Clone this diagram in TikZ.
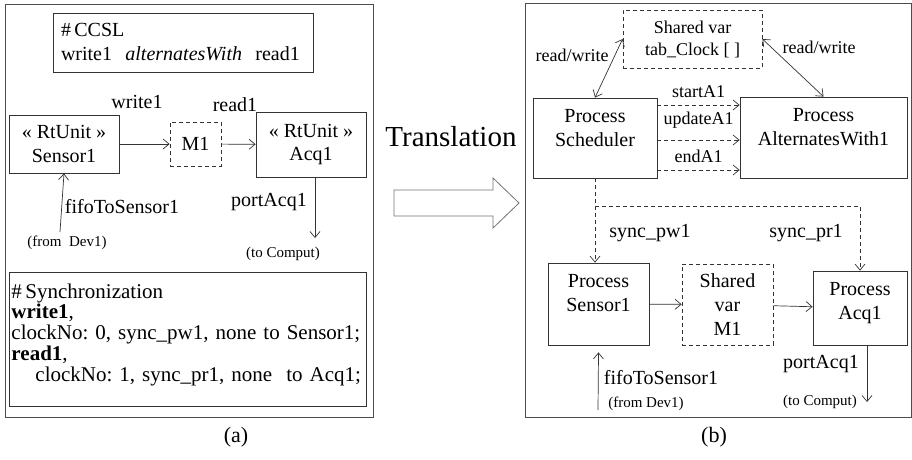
\documentclass[tikz,border=0pt]{standalone}
\usepackage{fontspec}
\setmainfont{Liberation Serif}
\usetikzlibrary{arrows.meta}
\frenchspacing

\newcommand{\boxtxt}{\fontsize{20}{24}\selectfont}
\newcommand{\lbltxt}{\fontsize{18}{22}\selectfont}
\newcommand{\notetxt}{\fontsize{15}{17}\selectfont}
\newcommand{\synctxt}{\fontsize{21}{20.75}\selectfont}
\newcommand{\titletxt}{\fontsize{29}{32}\selectfont}
\newcommand{\captxt}{\fontsize{22}{26}\selectfont}

\tikzset{
	panel/.style={draw=black!70, line width=0.8pt},
	box/.style={draw=black!80, line width=0.8pt, inner sep=0pt, align=center, font=\boxtxt},
	dbox/.style={box, dash pattern=on 4pt off 3pt},
	conn/.style={draw=black!80, line width=0.7pt, -{Straight Barb[length=6pt,width=10pt]}},
	dconn/.style={conn, dash pattern=on 4pt off 3pt},
	rw/.style={draw=black!80, line width=0.7pt, {Straight Barb[length=6pt,width=10pt]}-{Straight Barb[length=6pt,width=10pt]}},
	lbl/.style={inner sep=2pt, text depth=0pt, font=\lbltxt},
	note/.style={inner sep=0pt, font=\notetxt}
}

\begin{document}
\begin{tikzpicture}[x=1pt, y=-1pt, every node/.style={black}]
	\useasboundingbox (0,0) rectangle (912,459);

	% (a) the model
	\draw[panel] (5,4) rectangle (373,417);
	\node[box, align=left, text width=244pt, inner xsep=8pt, minimum width=260pt, minimum height=59pt] (ccsl) at (183,42.5)
		{\#\,CCSL\\write1~~\textit{alternatesWith}~~read1};

	\node[box, minimum width=110pt, minimum height=58pt] (sensA) at (64,144) {«~RtUnit~»\\Sensor1};
	\node[dbox, minimum width=51pt, minimum height=44pt] (mA) at (195.5,144) {M1};
	\node[box, minimum width=110pt, minimum height=65pt] (acqA) at (311,144.5) {«~RtUnit~»\\Acq1};
	\draw[conn] (sensA) -- (mA);
	\draw[conn] (mA) -- (acqA);
	\node[font=\boxtxt] (wrA) at (137,102) {write1};
	\node[font=\boxtxt] (rdA) at (235,105) {read1};

	\coordinate (devA) at (60,232);
	\draw[conn] (devA) -- (sensA.south);
	\node[font=\boxtxt] (fifoA) at (122,207) {fifoToSensor1};
	\node[note] (fromA) at (67,243) {(from~~Dev1)};

	\coordinate (compA) at (315,238);
	\draw[conn] ([xshift=4pt]acqA.south) -- (compA);
	\node[font=\boxtxt] (portA) at (269,202) {portAcq1};
	\node[note] (toA) at (283,254) {(to~Comput)};

	\node[box, align=left, text width=352pt, inner xsep=2.5pt, minimum width=357pt, minimum height=134pt,
		font=\synctxt, text height=14.5pt, text depth=96.5pt] (syncA) at (187.5,339)
		{\#\,Synchronization\\
		\textbf{write1},\\
		clockNo: 0, sync\_pw1, none to Sensor1;\\
		\textbf{read1},\\
		\hspace*{24pt}clockNo: 1, sync\_pr1, none~~to Acq1;};

	\node[font=\captxt] (capA) at (236,437) {(a)};

	% translation arrow
	\node[font=\titletxt] (trans) at (451,137) {Translation};
	\draw[draw=black!55, line width=0.8pt, fill=white] (394,190) -- (493,190) -- (493,178) -- (519,203)
		-- (493,228) -- (493,216) -- (394,216) -- cycle;

	% (b) the processes
	\draw[panel] (525,3) rectangle (911,417);
	\node[dbox, font=\lbltxt, minimum width=139pt, minimum height=58pt] (tab) at (692.5,39) {Shared var\\tab\_Clock~[~]};
	\node[box, minimum width=124pt, minimum height=80pt, text depth=21pt] (sched) at (595,138) {Process\\Scheduler};
	\node[box, minimum width=167pt, minimum height=81pt, text depth=21pt] (alt) at (823.5,137.5) {Process\\AlternatesWith1};
	\draw[rw] (sched.north) -- (tab.west);
	\draw[rw] (tab.east) -- (alt.north);
	\node[lbl] (rwL) at (572,55) {read/write};
	\node[lbl] (rwR) at (819,47) {read/write};

	\draw[dconn] ([yshift=33pt]sched.east) -- ([yshift=33pt]sched.east -| alt.west) node[lbl, midway, above=5pt] (startA) {startA1};
	\draw[dconn] ([yshift=-2pt]sched.east) -- ([yshift=-2pt]sched.east -| alt.west) node[lbl, midway, above=13pt] (updA) {updateA1};
	\draw[dconn] ([yshift=-32pt]sched.east) -- ([yshift=-32pt]sched.east -| alt.west) node[lbl, midway, above=5pt] (endA) {endA1};

	\node[box, minimum width=101pt, minimum height=82pt, text depth=23pt] (sensB) at (598.5,304) {Process\\Sensor1};
	\node[dbox, minimum width=91pt, minimum height=81pt] (mB) at (727.5,304.5) {Shared\\var\\M1};
	\node[box, minimum width=94pt, minimum height=74pt, text depth=15pt] (acqB) at (860,308) {Process\\Acq1};

	\coordinate (fork) at (595,206);
	\draw[dconn] (sched.south) -- (sched.south |- sensB.north);
	\draw[dconn] (fork) -| (acqB.north);
	\node[font=\boxtxt] (pwB) at (650,233) {sync\_pw1};
	\node[font=\boxtxt] (prB) at (806,233) {sync\_pr1};

	\draw[conn] (sensB) -- (mB);
	\draw[conn] (mB) -- (acqB);

	\coordinate (devB) at (598,410);
	\draw[conn] (devB) -- ([yshift=-7pt]sensB.south);
	\node[font=\boxtxt] (fifoB) at (661,378) {fifoToSensor1};
	\node[note] (fromB) at (646,404) {(from~Dev1)};

	\coordinate (compB) at (867,402);
	\draw[conn] ([xshift=7pt]acqB.south) -- (compB);
	\node[font=\boxtxt] (portB) at (821,364) {portAcq1};
	\node[note] (toB) at (820,402) {(to~Comput)};

	\node[font=\captxt] (capB) at (714,437) {(b)};
\end{tikzpicture}
\end{document}
